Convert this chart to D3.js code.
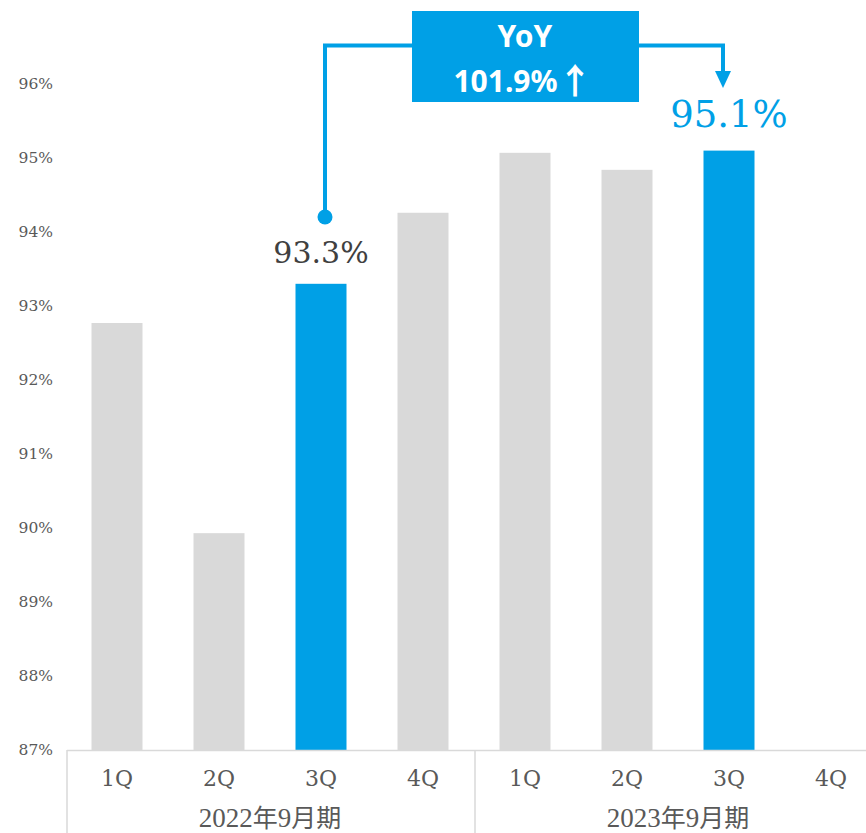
<!DOCTYPE html>
<html>
<head>
<meta charset="utf-8">
<script src="https://cdn.jsdelivr.net/npm/d3@7"></script>
<style>
  html, body { margin: 0; padding: 0; background: #ffffff; }
  svg { display: block; }
</style>
</head>
<body>
<div id="chart"></div>
<script>
// Quarterly ratio by fiscal year
const quarters = ["1Q", "2Q", "3Q", "4Q", "1Q", "2Q", "3Q", "4Q"];
const fiscalYears = ["2022年9月期", "2023年9月期"];
const fiscalYearDigits = ["2022", "2023"];
const ratios = [92.77, 89.93, 93.3, 94.26, 95.07, 94.84, 95.1, null];
const highlighted = [false, false, true, false, false, false, true, false];
const yTicks = [87, 88, 89, 90, 91, 92, 93, 94, 95, 96];
const yoyTitle = "YoY";
const yoyValue = "101.9%";
const yoyArrow = "↑";
const baseIndex = 2;    // 2022 3Q
const currentIndex = 6; // 2023 3Q

const W = 866, H = 833;
const GRAY = "#d9d9d9", BLUE = "#00a0e6", TEXT = "#595959";
const SERIF = "'DejaVu Serif', serif";
const NARROW_SERIF = "'Liberation Serif', serif";
const CJK = "'Noto Sans CJK JP', sans-serif";
const SANS = "'Noto Sans', sans-serif";

const svg = d3.select("#chart").append("svg").attr("width", W).attr("height", H);

const x = d3.scaleBand().domain(d3.range(quarters.length)).range([66, 882]).paddingInner(0.5).paddingOuter(0.25);
const y = d3.scaleLinear().domain([87, 96]).range([750, 84]);
const step = x.step();
const band0 = x(0) + x.bandwidth() / 2 - step / 2;

// y-axis labels (no axis line)
const yAxis = d3.axisLeft(y).tickValues(yTicks).tickSize(0).tickPadding(0).tickFormat(d => d + "%");
const yg = svg.append("g").attr("transform", "translate(53,0)").call(yAxis);
yg.select(".domain").remove();
yg.selectAll("text").attr("font-family", SERIF).attr("font-size", 15.5).attr("fill", TEXT);

// bars
svg.append("g").selectAll("rect")
  .data(ratios.map((v, i) => ({ v, i })).filter(d => d.v != null))
  .join("rect")
  .attr("x", d => x(d.i))
  .attr("width", x.bandwidth())
  .attr("y", d => y(d.v))
  .attr("height", d => y(87) - y(d.v))
  .attr("fill", d => highlighted[d.i] ? BLUE : GRAY);

// category axis: baseline and group dividers
svg.append("line").attr("x1", band0 + 1).attr("x2", W).attr("y1", 750.5).attr("y2", 750.5)
  .attr("stroke", GRAY).attr("stroke-width", 1.5);
[0, 4].forEach(k => {
  const xx = band0 + k * step + 1;
  svg.append("line").attr("x1", xx).attr("x2", xx).attr("y1", 750).attr("y2", H)
    .attr("stroke", GRAY).attr("stroke-width", 1.5);
});

// quarter labels
svg.append("g").selectAll("text").data(quarters).join("text")
  .attr("x", (d, i) => x(i) + x.bandwidth() / 2)
  .attr("y", 786)
  .attr("text-anchor", "middle")
  .attr("font-family", SERIF).attr("font-size", 22).attr("fill", TEXT)
  .text(d => d);

// fiscal-year labels: serif digits, gothic kanji
const fy = svg.append("g").selectAll("text").data(fiscalYears).join("text")
  .attr("x", (d, i) => band0 + (i * 4 + 2) * step)
  .attr("y", 827)
  .attr("text-anchor", "middle")
  .attr("font-size", 27).attr("fill", TEXT);
fy.append("tspan").attr("font-family", NARROW_SERIF).text((d, i) => fiscalYearDigits[i]);
fy.append("tspan").attr("font-family", CJK).attr("font-size", 25).text("年");
fy.append("tspan").attr("font-family", NARROW_SERIF).text("9");
fy.append("tspan").attr("font-family", CJK).attr("font-size", 25).text("月期");

// value labels for highlighted bars
const cxBase = x(baseIndex) + x.bandwidth() / 2;
const cxCur = x(currentIndex) + x.bandwidth() / 2;
svg.append("text").attr("x", cxBase).attr("y", y(ratios[baseIndex]) - 21)
  .attr("text-anchor", "middle").attr("font-family", SERIF).attr("font-size", 30)
  .attr("fill", "#404040").text(ratios[baseIndex].toFixed(1) + "%");
svg.append("text").attr("x", cxCur).attr("y", y(ratios[currentIndex]) - 24)
  .attr("text-anchor", "middle").attr("font-family", SERIF).attr("font-size", 37)
  .attr("fill", BLUE).text(ratios[currentIndex].toFixed(1) + "%");

// YoY connector from the prior-year bar to the current bar
const startX = cxBase + 4, endX = cxCur - 6, connY = 45.5;
svg.append("path")
  .attr("d", `M${startX},217 V${connY} H${endX} V74`)
  .attr("fill", "none").attr("stroke", BLUE).attr("stroke-width", 4);
svg.append("circle").attr("cx", startX).attr("cy", 217).attr("r", 7.5).attr("fill", BLUE);
svg.append("path")
  .attr("d", `M${endX - 8},71 L${endX + 8},71 L${endX},88 Z`)
  .attr("fill", BLUE);

// YoY box
svg.append("rect").attr("x", 412).attr("y", 11).attr("width", 227).attr("height", 91).attr("fill", BLUE);
svg.append("text").attr("x", 525).attr("y", 47).attr("text-anchor", "middle")
  .attr("font-family", SANS).attr("font-weight", "bold").attr("font-size", 30)
  .attr("fill", "#ffffff").text(yoyTitle);
const yoyText = svg.append("text").attr("x", 523).attr("y", 92).attr("text-anchor", "middle")
  .attr("font-family", SANS).attr("font-weight", "bold").attr("font-size", 30)
  .attr("fill", "#ffffff");
yoyText.append("tspan").text(yoyValue);
yoyText.append("tspan").attr("font-family", CJK).attr("font-size", 35).attr("dx", 0).attr("dy", 2).text(yoyArrow);
</script>
</body>
</html>
